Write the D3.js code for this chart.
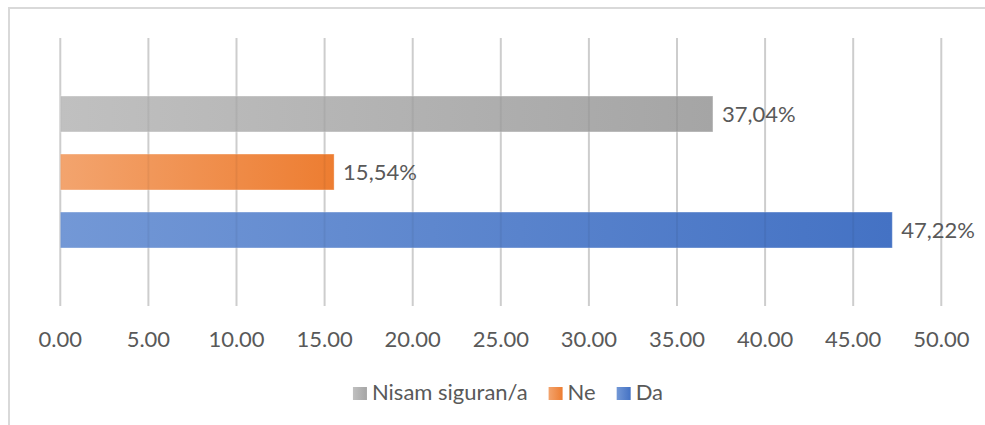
<!DOCTYPE html>
<html>
<head>
<meta charset="utf-8">
<script src="https://cdn.jsdelivr.net/npm/d3@7"></script>
<style>
  body { margin: 0; background: #fff; }
  svg { display: block; font-family: Lato, "Open Sans", sans-serif; }
</style>
</head>
<body>
<svg id="chart" width="985" height="425"></svg>
<script>
// series (top to bottom) and values in percent
const series = ["Nisam siguran/a", "Ne", "Da"];
const values = [37.04, 15.54, 47.22];
const colors = ["#a5a5a5", "#ed7d31", "#4472c4"];
const lightColors = ["#c0c0c0", "#f3a46e", "#7398d6"];
const ticks = [0, 5, 10, 15, 20, 25, 30, 35, 40, 45, 50];

const svg = d3.select("#chart");
const margin = { top: 38, left: 60.3 };
const width = 881;
const height = 268;

// chart frame
svg.append("rect")
    .attr("x", 9).attr("y", 8)
    .attr("width", 1000).attr("height", 440)
    .attr("fill", "none")
    .attr("stroke", "#d9d9d9")
    .attr("stroke-width", 2);

const defs = svg.append("defs");
series.forEach((s, i) => {
    const g = defs.append("linearGradient")
        .attr("id", "grad" + i)
        .attr("x1", "0%").attr("x2", "100%")
        .attr("y1", "0%").attr("y2", "0%");
    g.append("stop").attr("offset", "0%").attr("stop-color", lightColors[i]);
    g.append("stop").attr("offset", "100%").attr("stop-color", colors[i]);
});

const g = svg.append("g")
    .attr("transform", "translate(" + margin.left + "," + margin.top + ")");

const xScale = d3.scaleLinear()
    .domain([0, 50])
    .range([0, width]);

// one category, three series grouped in the middle
const yScale = d3.scaleBand()
    .domain(series)
    .range([0, height])
    .paddingInner(0.38)
    .paddingOuter(1.0);

// grid under bars
g.selectAll(".grid")
    .data(ticks)
    .enter().append("line")
    .attr("class", "grid")
    .attr("x1", d => xScale(d)).attr("x2", d => xScale(d))
    .attr("y1", 0).attr("y2", height)
    .attr("stroke", "#d9d9d9")
    .attr("stroke-width", 2);

g.selectAll(".bar")
    .data(values)
    .enter().append("rect")
    .attr("class", "bar")
    .attr("x", xScale(0))
    .attr("y", (d, i) => yScale(series[i]))
    .attr("width", d => xScale(d) - xScale(0))
    .attr("height", yScale.bandwidth())
    .attr("fill", (d, i) => "url(#grad" + i + ")")
    .attr("stroke", "rgba(255,255,255,0.35)")
    .attr("stroke-width", 1);

// faint grid over bars
g.selectAll(".grid-over")
    .data(ticks)
    .enter().append("line")
    .attr("class", "grid-over")
    .attr("x1", d => xScale(d)).attr("x2", d => xScale(d))
    .attr("y1", 0).attr("y2", height)
    .attr("stroke", "rgba(0,0,0,0.05)")
    .attr("stroke-width", 2);

// tick labels
const fmtTick = d3.format(".2f");
g.selectAll(".tick-label")
    .data(ticks)
    .enter().append("text")
    .attr("class", "tick-label")
    .attr("x", d => xScale(d))
    .attr("y", 309)
    .attr("text-anchor", "middle")
    .attr("font-size", 22)
    .attr("fill", "#595959")
    .text(d => fmtTick(d));

// data labels, decimal comma
const hr = d3.formatLocale({ decimal: ",", thousands: ".", grouping: [3], currency: ["", " kn"] });
const fmtPct = hr.format(".2f");
g.selectAll(".val")
    .data(values)
    .enter().append("text")
    .attr("class", "val")
    .attr("x", d => xScale(d) + 9)
    .attr("y", (d, i) => yScale(series[i]) + yScale.bandwidth() / 2)
    .attr("dy", "0.36em")
    .attr("font-size", 22)
    .attr("fill", "#595959")
    .text(d => fmtPct(d) + "%");

// legend
const legend = svg.append("g");
let lx = 0;
series.forEach((s, i) => {
    const item = legend.append("g").attr("transform", "translate(" + lx + ",0)");
    item.append("rect")
        .attr("x", 0).attr("y", -13)
        .attr("width", 14).attr("height", 13)
        .attr("fill", "url(#grad" + i + ")");
    const t = item.append("text")
        .attr("x", 19).attr("y", 0)
        .attr("font-size", 22)
        .attr("fill", "#595959")
        .text(s);
    lx += 19 + t.node().getComputedTextLength() + 21;
});
const legendWidth = lx - 21;
legend.attr("transform", "translate(" + (508 - legendWidth / 2) + ",400)");
</script>
</body>
</html>
